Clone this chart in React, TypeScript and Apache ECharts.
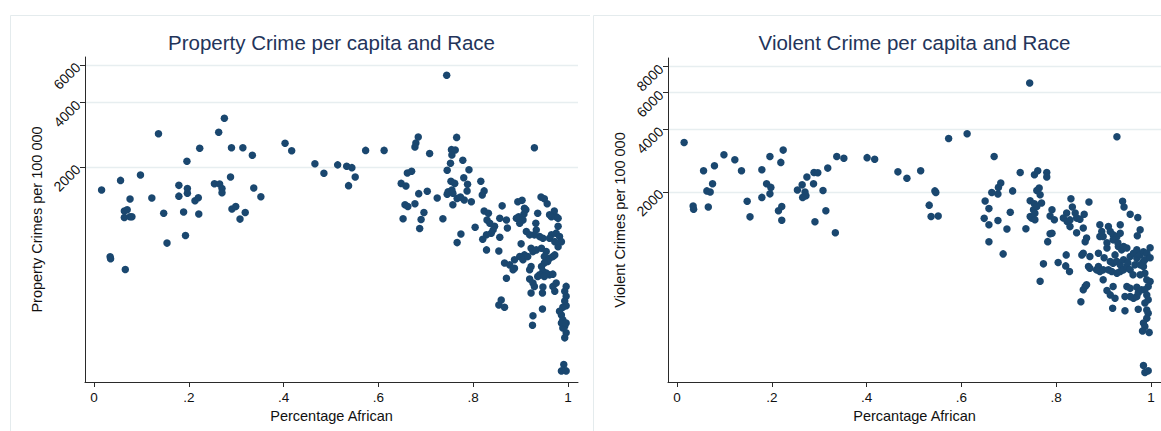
import React, { useEffect, useRef } from "react";
import * as echarts from "echarts";

const xTicks = [0, 0.2, 0.4, 0.6, 0.8, 1];
const propertyTicks = [2000, 4000, 6000];
const violentTicks = [2000, 4000, 6000, 8000];

const propertyTitle = "Property Crime per capita and Race";
const violentTitle = "Violent Crime per capita and Race";
const propertyYName = "Property Crimes per 100 000";
const violentYName = "Violent Crimes per 100 000";
const propertyXName = "Percentage African";
const violentXName = "Percantage African";

// [share African, property crimes per 100 000]
const propertyPoints: [number, number][] = [
  [0.016,1560],[0.056,1730],[0.098,1835],[0.136,2860],[0.122,1430],[0.076,1415],[0.179,1640],[0.197,1585],[0.179,1460],[0.197,1505],
  [0.196,2125],[0.223,2445],[0.213,1390],[0.22,1435],[0.254,1670],[0.265,1665],[0.27,1585],[0.27,1515],[0.288,1795],[0.263,2905],
  [0.275,3380],[0.29,2460],[0.314,2460],[0.334,2270],[0.337,1595],[0.352,1450],[0.403,2580],[0.417,2380],[0.291,1270],[0.299,1305],
  [0.319,1225],[0.308,1140],[0.064,1245],[0.07,1260],[0.064,1160],[0.076,1170],[0.08,1170],[0.147,1215],[0.189,1230],[0.221,1205],
  [0.193,955],[0.154,880],[0.034,760],[0.035,743],[0.066,662],
  [0.744,5370],[0.466,2070],[0.485,1870],[0.514,2045],[0.533,2015],[0.544,1985],[0.551,1795],[0.537,1635],[0.573,2390],[0.612,2390],
  [0.684,2760],[0.679,2590],[0.677,2480],[0.708,2310],[0.765,2750],[0.754,2410],[0.762,2400],[0.755,2275],[0.752,2080],[0.745,1930],
  [0.778,2150],[0.791,1940],[0.78,1780],[0.753,1715],[0.761,1675],[0.788,1660],[0.787,1545],[0.816,1715],[0.823,1545],[0.819,1480],
  [0.929,2460],[0.661,1875],[0.67,1910],[0.648,1675],[0.658,1630],[0.685,1500],[0.703,1540],[0.724,1430],[0.745,1490],[0.747,1530],
  [0.755,1560],[0.757,1505],[0.766,1425],[0.773,1445],[0.781,1400],[0.796,1375],[0.656,1330],[0.662,1305],[0.677,1345],[0.696,1225],
  [0.757,1330],[0.736,1145],[0.652,1145],[0.69,1135],[0.687,1030],
  [0.823,1245],[0.832,1215],[0.861,1315],[0.894,1375],[0.903,1395],[0.943,1445],[0.95,1420],[0.956,1345],[0.911,1260],[0.907,1205],
  [0.936,1215],[0.971,1245],[0.975,1170],[0.896,1170],[0.891,1150],[0.856,1150],[0.87,1130],[0.804,1045],[0.774,970],[0.766,885],
  [0.829,1130],[0.835,1090],[0.845,1055],[0.842,1015],[0.838,980],[0.828,962],[0.82,918],[0.856,938],[0.872,1035],[0.905,1130],
  [0.908,1282],[0.898,1090],[0.965,1170],[0.979,1150],[0.961,1195],[0.932,1090],[0.933,1015],[0.94,944],[0.947,927],[0.929,962],
  [0.912,997],[0.919,962],[0.979,1055],[0.975,980],[0.982,944],[0.986,894],[0.979,846],[0.965,962],[0.961,927],[0.972,894],
  [0.901,873],[0.828,818],[0.854,809],[0.922,833],[0.926,803],[0.933,818],[0.944,833],[0.908,775],[0.898,761],[0.887,735],
  [0.905,735],[0.915,761],[0.954,803],[0.95,761],[0.961,748],[0.968,761],[0.972,775],[0.957,722],[0.95,710],[0.866,710],
  [0.877,696],[0.887,671],[0.884,660],[0.922,684],[0.919,660],[0.944,684],[0.947,649],[0.94,625],[0.936,614],[0.961,625],
  [0.968,630],[0.954,637],[0.95,614],[0.87,603],[0.919,597],[0.926,572],[0.929,552],[0.947,548],[0.946,514],[0.922,514],
  [0.968,552],[0.972,524],[0.975,572],[0.996,552],[0.993,524],[0.996,497],[0.993,472],[0.996,448],[0.989,441],[0.859,477],
  [0.854,452],[0.866,441],[0.946,433],[0.982,422],[0.986,406],[0.989,385],[0.993,359],[0.996,335],[0.989,353],[0.993,317],
  [0.986,372],[0.996,372],[0.926,402],[0.925,363],[0.991,238],[0.986,222],[0.996,222],
];

// [share African, violent crimes per 100 000]
const violentPoints: [number, number][] = [
  [0.015,3455],[0.056,2525],[0.079,2670],[0.099,3015],[0.122,2855],[0.136,2525],[0.179,2555],[0.196,2955],[0.224,3175],[0.219,2770],
  [0.063,2020],[0.07,1995],[0.075,2185],[0.189,2185],[0.198,2100],[0.196,1955],[0.179,1880],[0.148,1800],[0.034,1710],[0.035,1650],
  [0.066,1690],[0.154,1515],[0.221,1700],[0.214,1620],[0.221,1460],[0.254,2040],[0.264,2160],[0.274,2355],[0.289,2475],[0.297,2470],
  [0.318,2600],[0.27,1995],[0.272,1915],[0.265,1880],[0.288,2185],[0.308,2030],[0.314,1620],[0.337,2955],[0.352,2900],[0.401,2920],
  [0.417,2870],[0.291,1435],[0.334,1270],
  [0.744,6680],[0.573,3610],[0.612,3805],[0.928,3680],[0.466,2495],[0.485,2325],[0.514,2525],[0.544,2020],[0.546,1985],[0.532,1725],
  [0.536,1520],[0.551,1530],
  [0.669,2955],[0.724,2475],[0.678,2100],[0.683,2205],[0.664,1985],[0.677,1950],[0.708,2020],[0.65,1805],[0.658,1660],[0.703,1595],
  [0.648,1490],[0.677,1455],[0.754,2415],[0.761,2525],[0.78,2475],[0.78,2355],[0.759,2030],[0.764,2085],[0.766,1935],[0.745,1810],
  [0.754,1750],[0.769,1765],[0.752,1640],[0.745,1520],[0.791,1640],[0.787,1530],[0.831,1850],[0.834,1690],[0.869,1785],[0.822,1580],
  [0.84,1580],[0.859,1560],[0.815,1495],[0.829,1465],[0.94,1800],[0.943,1690],[0.956,1560],[0.972,1505],[0.658,1387],[0.658,1150],
  [0.696,1323],[0.688,1005],[0.736,1328],[0.759,1700],[0.755,1578],[0.748,1494],[0.755,1466],[0.796,1466],[0.787,1256],[0.782,1151],
  [0.773,900],[0.766,742],[0.804,914],[0.821,994],[0.82,880],[0.828,827],[0.823,1438],[0.829,1360],[0.843,1494],[0.85,1477],
  [0.843,1270],[0.857,1340],[0.864,1197],[0.861,1151],[0.854,994],[0.857,1013],[0.871,976],[0.868,873],[0.871,857],[0.861,700],
  [0.857,675],[0.864,713],[0.852,591],[0.889,1013],[0.892,1387],[0.896,1288],[0.899,1218],[0.892,1218],[0.91,1360],[0.914,1288],
  [0.92,1241],[0.928,1218],[0.935,1387],[0.907,1072],[0.931,1091],[0.938,1051],[0.942,1091],[0.949,1072],[0.889,873],[0.899,842],
  [0.892,827],[0.914,923],[0.92,907],[0.928,923],[0.935,890],[0.942,941],[0.956,976],[0.963,1013],[0.97,1051],[0.91,842],
  [0.917,827],[0.928,812],[0.935,827],[0.942,842],[0.949,873],[0.956,842],[0.966,890],[0.97,958],[0.977,994],[0.984,1030],
  [0.991,1013],[0.984,923],[0.899,754],[0.907,670],[0.92,700],[0.914,638],[0.924,615],[0.919,550],[0.945,535],[0.949,700],
  [0.956,687],[0.97,695],[0.945,626],[0.956,626],[0.963,615],[0.97,626],[0.973,654],[0.98,675],[0.973,544],[0.984,873],
  [0.987,811],[0.991,754],[0.998,740],[0.994,700],[0.987,675],[0.991,638],[0.994,604],[0.987,583],[0.991,540],[0.994,521],
  [0.991,493],[0.984,467],[0.987,449],[0.982,428],[0.996,421],[0.984,292],[0.987,270],[0.994,275],[0.791,1263],[0.977,1312],
  [0.971,1229],[0.92,1174],[0.935,1263],[0.885,842],[0.924,994],[0.951,912],[0.977,890],[0.962,797],[0.977,797],[0.987,941],
  [0.93,1136],[0.998,1075],[0.998,963],[0.907,1136],[0.901,963],
];

const FONT = "'Liberation Sans', Arial, Helvetica, sans-serif";
const MARK = "#1a476f";
const GRID_COLOR = "#e7eef0";
const AXIS_COLOR = "#2a2a2a";
const TEXT_COLOR = "#111111";
const TITLE_COLOR = "#23345a";
const PANEL_BORDER = "#e4ebed";

const lg = (v: number) => Math.log10(v);

function fmtX(v: number): string {
  const r = Math.round(v * 10) / 10;
  if (r === 0) return "0";
  if (r === 1) return "1";
  return String(r).replace(/^0/, "");
}

function xAxisFor(gridIndex: number, name: string) {
  return {
    type: "value",
    gridIndex,
    min: -0.019,
    max: 1.021,
    name,
    nameLocation: "middle",
    nameGap: 19,
    nameTextStyle: { fontFamily: FONT, fontSize: 14.5, color: TEXT_COLOR },
    axisLine: { show: true, onZero: false, lineStyle: { color: AXIS_COLOR, width: 1 } },
    axisTick: { show: true, length: 5, customValues: xTicks, lineStyle: { color: AXIS_COLOR } },
    axisLabel: {
      customValues: xTicks,
      margin: 8,
      fontFamily: FONT,
      fontSize: 13.5,
      color: TEXT_COLOR,
      formatter: (v: number) => fmtX(v),
    },
    splitLine: { show: false },
  };
}

function yAxisFor(gridIndex: number, name: string, ticks: number[], min: number, max: number) {
  const tv = ticks.map(lg);
  return {
    type: "value",
    gridIndex,
    min: lg(min),
    max: lg(max),
    name,
    nameLocation: "middle",
    nameGap: 41,
    nameTextStyle: { fontFamily: FONT, fontSize: 14.5, color: TEXT_COLOR },
    axisLine: { show: true, onZero: false, lineStyle: { color: AXIS_COLOR, width: 1 } },
    axisTick: { show: true, length: 5, customValues: tv, lineStyle: { color: AXIS_COLOR } },
    axisLabel: {
      customValues: tv,
      rotate: 45,
      margin: 7,
      fontFamily: FONT,
      fontSize: 14,
      color: TEXT_COLOR,
      formatter: (v: number) => String(Math.round(Math.pow(10, v))),
    },
    splitLine: { show: true, lineStyle: { color: GRID_COLOR, width: 1.3 } },
  };
}

export default function App() {
  const ref = useRef<HTMLDivElement>(null);

  useEffect(() => {
    if (!ref.current) return;
    const chart = echarts.init(ref.current, undefined, { renderer: "svg" });
    const option = {
      animation: false,
      backgroundColor: "#ffffff",
      grid: [
        { left: 85, top: 57, width: 493, height: 325 },
        { left: 668, top: 58, width: 493, height: 324 },
      ],
      xAxis: [xAxisFor(0, propertyXName), xAxisFor(1, violentXName)],
      yAxis: [
        yAxisFor(0, propertyYName, propertyTicks, 197, 6540),
        yAxisFor(1, violentYName, violentTicks, 243, 8810),
      ],
      graphic: [
        {
          type: "polyline",
          z: -10,
          silent: true,
          shape: { points: [[10.5, 440], [10.5, 15.5], [590, 15.5]] },
          style: { fill: "none", stroke: PANEL_BORDER, lineWidth: 1 },
        },
        {
          type: "polyline",
          z: -10,
          silent: true,
          shape: { points: [[593.5, 440], [593.5, 15.5], [1170, 15.5]] },
          style: { fill: "none", stroke: PANEL_BORDER, lineWidth: 1 },
        },
        {
          type: "text",
          x: 331.5,
          y: 42,
          style: {
            text: propertyTitle,
            fill: TITLE_COLOR,
            font: `20.5px ${FONT}`,
            align: "center",
            verticalAlign: "middle",
          },
        },
        {
          type: "text",
          x: 914.5,
          y: 42,
          style: {
            text: violentTitle,
            fill: TITLE_COLOR,
            font: `20.5px ${FONT}`,
            align: "center",
            verticalAlign: "middle",
          },
        },
      ],
      series: [
        {
          type: "scatter",
          xAxisIndex: 0,
          yAxisIndex: 0,
          symbol: "circle",
          symbolSize: 7.5,
          itemStyle: { color: MARK, opacity: 1 },
          data: propertyPoints.map(([x, y]) => [x, lg(y)]),
        },
        {
          type: "scatter",
          xAxisIndex: 1,
          yAxisIndex: 1,
          symbol: "circle",
          symbolSize: 7.5,
          itemStyle: { color: MARK, opacity: 1 },
          data: violentPoints.map(([x, y]) => [x, lg(y)]),
        },
      ],
    };
    chart.setOption(option as any);
    return () => chart.dispose();
  }, []);

  return (
    <div
      ref={ref}
      style={{ position: "fixed", left: 0, top: 0, width: 1161, height: 431, background: "#fff" }}
    />
  );
}
